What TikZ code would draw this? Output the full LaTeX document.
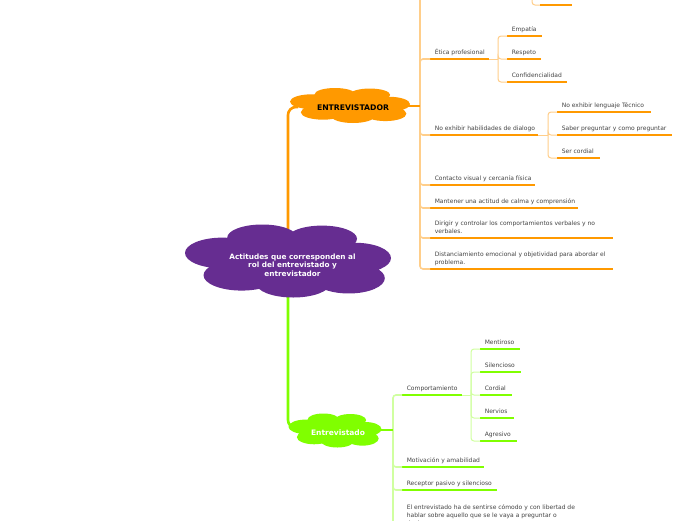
\documentclass[tikz,border=0pt]{standalone}
\usepackage{fontspec}
\setmainfont{DejaVu Sans}
\usetikzlibrary{calc}
\definecolor{orng}{RGB}{255,153,0}
\definecolor{orngl}{RGB}{255,206,138}
\definecolor{purp}{RGB}{102,45,145}
\definecolor{grn}{RGB}{128,255,0}
\definecolor{grnl}{RGB}{208,255,160}
\definecolor{txt}{RGB}{68,68,68}
\newcommand\cloudfill[5]{%
\begin{scope}[shift={(#2,#3)},x=#4pt,y=-#5pt]
\fill[#1] (0,0) ellipse[x radius=0.78,y radius=0.6]
 (-0.25,-0.64) ellipse[x radius=0.34,y radius=0.36]
 (0.33,-0.61) ellipse[x radius=0.34,y radius=0.36]
 (-0.64,-0.22) ellipse[x radius=0.36,y radius=0.42]
 (0.65,-0.08) ellipse[x radius=0.35,y radius=0.42]
 (-0.45,0.39) ellipse[x radius=0.37,y radius=0.42]
 (0.05,0.61) ellipse[x radius=0.36,y radius=0.39]
 (0.59,0.47) ellipse[x radius=0.35,y radius=0.42];
\end{scope}}
\newcommand\mitem[6]{%
 \coordinate (#1s) at (#2,#3);
 \coordinate (#1e) at (#2+#4,#3);
 \node[lbl] (#1) at (#2+4.6,#3-5) {#6};
 \draw[u#5] (#1s) -- (#1e);}
\begin{document}
\begin{tikzpicture}[x=1pt,y=-1pt,
  lbl/.style={font=\fontsize{6}{7.6}\selectfont, text=txt, anchor=base west, inner sep=0pt, align=left},
  cloudtxt/.style={font=\fontsize{7.3}{8.7}\selectfont\bfseries, align=center, inner sep=0pt},
  uO/.style={orng, line width=2.6pt},
  uG/.style={grn, line width=2.6pt},
  cO/.style={orngl, line width=1pt, rounded corners=3pt},
  cG/.style={grnl, line width=1pt, rounded corners=3pt},
  tO/.style={orngl, line width=1.6pt, rounded corners=3pt},
  tG/.style={grnl, line width=1.6pt, rounded corners=3pt},
  mainO/.style={orng, line width=2.6pt, rounded corners=8pt},
  mainG/.style={grn, line width=2.6pt, rounded corners=8pt}]
\fill[white] (0,0) rectangle (696,520);
\useasboundingbox (0,0) rectangle (696,520);

% main connectors
\coordinate (rootTop) at (288,232);
\coordinate (rootBot) at (288,292);
\coordinate (eaW) at (298,107);
\coordinate (enW) at (298,428);
\draw[mainO] (rootTop) |- (eaW);
\draw[mainG] (rootBot) |- (enW);

% clouds
\cloudfill{purp}{288}{261}{103}{36.5}
\cloudfill{orng}{350}{105.5}{60}{17.5}
\cloudfill{grn}{335}{430.5}{46.5}{17}
\node[cloudtxt, text=white] (root) at (292.5,265) {Actitudes que corresponden al\\rol del entrevistado y\\entrevistador};
\node[cloudtxt, text=black, font=\fontsize{7.7}{9}\selectfont\bfseries] (ea) at (353,108) {ENTREVISTADOR};
\node[cloudtxt, text=white, font=\fontsize{7.5}{9}\selectfont\bfseries] (en) at (338,433) {Entrevistado};

% ENTREVISTADOR branch
\coordinate (eaE) at (407,106);
\coordinate (trunkO) at (420,106);
\mitem{etica}{430}{59}{59}{O}{Ética profesional}
\mitem{noexh}{430}{135}{108}{O}{No exhibir habilidades de dialogo}
\mitem{contacto}{430}{185}{105}{O}{Contacto visual y cercanía física}
\mitem{mantener}{430}{208}{148}{O}{Mantener una actitud de calma y comprensión}
\mitem{dirigir}{430}{238}{183}{O}{Dirigir y controlar los comportamientos verbales y no\\verbales.}
\mitem{distan}{430}{269}{183}{O}{Distanciamiento emocional y objetividad para abordar el\\problema.}
\coordinate (hidS) at (430,-30);
\draw[tO] (trunkO) |- (hidS);
\foreach \c in {etica,noexh,contacto,mantener,dirigir,distan}
  \draw[tO] (trunkO) |- (\c s);
\draw[orng, line width=1.8pt] (eaE) -- (trunkO);

% hidden top item's child
\coordinate (hidJ) at (532,-30);
\coordinate (hidCs) at (540,5);
\coordinate (hidCe) at (572,5);
\draw[cO] (hidJ) |- (hidCs);
\draw[uO] (hidCs) -- (hidCe);

% Etica children
\coordinate (eticaJ) at (498,59);
\mitem{empatia}{507}{36}{35}{O}{Empatía}
\mitem{respeto}{507}{59}{34}{O}{Respeto}
\mitem{confid}{507}{82}{60}{O}{Confidencialidad}
\draw[cO] (eticae) -- (eticaJ);
\foreach \c in {empatia,respeto,confid}
  \draw[cO] (eticaJ) |- (\c s);

% No exhibir children
\coordinate (noexhJ) at (548,135);
\mitem{lengua}{557}{112}{94}{O}{No exhibir lenguaje Técnico}
\mitem{saber}{557}{135}{115}{O}{Saber preguntar y como preguntar}
\mitem{sercord}{557}{158}{43}{O}{Ser cordial}
\draw[cO] (noexhe) -- (noexhJ);
\foreach \c in {lengua,saber,sercord}
  \draw[cO] (noexhJ) |- (\c s);

% Entrevistado branch
\coordinate (enE) at (380,430);
\coordinate (trunkG) at (393,430);
\mitem{comport}{402}{395}{60}{G}{Comportamiento}
\mitem{motiv}{402}{467}{82}{G}{Motivación y amabilidad}
\mitem{recep}{402}{490}{95}{G}{Receptor pasivo y silencioso}
\mitem{comodo}{402}{530}{183}{G}{El entrevistado ha de sentirse cómodo y con libertad de\\hablar sobre aquello que se le vaya a preguntar o\\decir.}
\foreach \c in {comport,motiv,recep,comodo}
  \draw[tG] (trunkG) |- (\c s);
\draw[grn, line width=1.8pt] (enE) -- (trunkG);

% Comportamiento children
\coordinate (compJ) at (471,395);
\mitem{mentir}{480}{349}{40}{G}{Mentiroso}
\mitem{silenc}{480}{372}{41}{G}{Silencioso}
\mitem{cordial}{480}{395}{32}{G}{Cordial}
\mitem{nervios}{480}{418}{34}{G}{Nervios}
\mitem{agresivo}{480}{441}{37}{G}{Agresivo}
\draw[cG] (comporte) -- (compJ);
\foreach \c in {mentir,silenc,cordial,nervios,agresivo}
  \draw[cG] (compJ) |- (\c s);
\end{tikzpicture}
\end{document}
